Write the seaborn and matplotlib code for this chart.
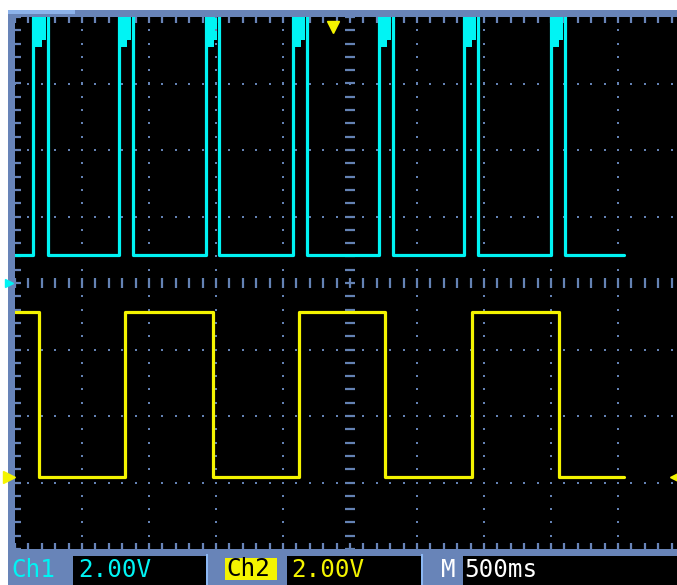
import numpy as np
import pandas as pd
import seaborn as sns
import matplotlib.pyplot as plt
from matplotlib.patches import Rectangle

# scope settings
volts_per_div = 2.0
ms_per_div = 500
ch1_offset_div = 0.0
ch2_offset_div = -2.91
trace_end_ms = 4545
trigger_ms = 2373

# Ch1 (cyan) pulse edges, ms
ch1_rise_ms = [134, 776, 1425, 2075, 2716, 3351, 4000]
ch1_fall_ms = [246, 881, 1522, 2179, 2821, 3455, 4104]
ch1_low_v = 0.84
ch1_high_v = 8.6          # above the screen, gets clipped
ch1_clip_v = [7.1, 7.3]   # depth of the clipped blob at the top

# Ch2 (yellow) toggle edges, ms
ch2_edges_ms = [179, 821, 1478, 2119, 2761, 3410, 4060]
ch2_high_v = 4.96
ch2_low_v = 0.0

frame_col = '#6884b8'
dot_col = '#6482b4'
cyan = '#00f4f4'
yellow = '#f4f400'


def square_wave(edges, start, other, end):
    t, v = [0], [start]
    level, nxt = start, other
    for e in edges:
        t += [e, e]
        v += [level, nxt]
        level, nxt = nxt, level
    t.append(end)
    v.append(level)
    return pd.DataFrame({'t': t, 'v': v})


ch1_edges = sorted(ch1_rise_ms + ch1_fall_ms)
ch1 = square_wave(ch1_edges, ch1_low_v, ch1_high_v, trace_end_ms)
ch1['div'] = ch1['v'] / volts_per_div + ch1_offset_div
ch2 = square_wave(ch2_edges_ms, ch2_high_v, ch2_low_v, trace_end_ms)
ch2['div'] = ch2['v'] / volts_per_div + ch2_offset_div

sns.set_style('dark')
fig = plt.figure(figsize=(6.77, 5.85), dpi=100)

# frame / status bar, pixel coordinates
bg = fig.add_axes([0, 0, 1, 1], zorder=0)
bg.set_xlim(0, 677)
bg.set_ylim(585, 0)
bg.axis('off')
bg.add_patch(Rectangle((8, 10), 669, 575, color=frame_col, lw=0))
bg.add_patch(Rectangle((8, 10), 67, 4, color='#8cb2ea', lw=0))
for x0, x1 in [(73, 206), (287, 421), (463, 677)]:
    bg.add_patch(Rectangle((x0, 556), x1 - x0, 29, color='black', lw=0))
for xs in [206, 421]:
    bg.add_patch(Rectangle((xs, 554), 2, 31, color='#8cb8f4', lw=0))
bg.add_patch(Rectangle((225, 558), 52, 22, color=yellow, lw=0))

txt = dict(family='DejaVu Sans Mono', fontsize=17.5, va='center', ha='left')
bg.text(11, 570, 'Ch1', color=cyan, **txt)
bg.text(78, 570, '2.00V', color=cyan, **txt)
bg.text(226, 569, 'Ch2', color='black', **txt)
bg.text(291, 570, '2.00V', color=yellow, **txt)
bg.text(441, 570, 'M', color='white', **txt)
bg.text(464, 570, '500ms', color='white', **txt)

# scope screen
ax = fig.add_axes([15 / 677, 36 / 585, 662 / 677, 532 / 585], zorder=1)
ax.set_facecolor('black')
x_max = 662 / 67 * ms_per_div
ax.set_xlim(0, x_max)
ax.set_ylim(-4, 4)
for s in ax.spines.values():
    s.set_visible(False)

minor_x = np.arange(0, x_max, ms_per_div / 5)
minor_y = np.arange(-4, 4.01, 0.2)
ax.set_xticks(minor_x)
ax.set_yticks(minor_y)
ax.tick_params(direction='in', length=4.2, width=1.6, color=frame_col,
               top=True, bottom=True, left=True, right=False,
               labelbottom=False, labelleft=False)
ax.grid(False)

# dotted graticule
for gx in np.arange(ms_per_div, x_max, ms_per_div):
    if gx == 5 * ms_per_div:
        continue
    ax.plot(np.full(len(minor_y), gx), minor_y, ls='none', marker='s', ms=1.6, mew=0, color=dot_col)
for gy in [-3, -2, -1, 1, 2, 3]:
    ax.plot(minor_x, np.full(len(minor_x), gy), ls='none', marker='s', ms=1.6, mew=0, color=dot_col)
ax.plot(minor_x, np.zeros(len(minor_x)), ls='none', marker='|', ms=6.5, mew=1.6, color=dot_col)
ax.plot(np.full(len(minor_y), 5 * ms_per_div), minor_y, ls='none', marker='_', ms=6.5, mew=1.6, color=dot_col)

# traces
sns.lineplot(data=ch2, x='t', y='div', sort=False, estimator=None, color=yellow, lw=2.3, ax=ax)
sns.lineplot(data=ch1, x='t', y='div', sort=False, estimator=None, color=cyan, lw=2.3, ax=ax)
for r, f in zip(ch1_rise_ms, ch1_fall_ms):
    w = f - r
    ax.fill_between([r, r + 0.6 * w], ch1_clip_v[0] / volts_per_div, 4.1, color=cyan, lw=0)
    ax.fill_between([r + 0.6 * w, r + 0.85 * w], ch1_clip_v[1] / volts_per_div, 4.1, color=cyan, lw=0)

# channel ground / trigger markers
yt = ax.get_yaxis_transform()
ax.plot([-0.009], [ch1_offset_div], marker='>', ms=6, color=cyan, transform=yt, clip_on=False)
ax.plot([-0.009], [ch2_offset_div], marker='>', ms=8, color=yellow, transform=yt, clip_on=False)
ax.plot([0.998], [ch2_offset_div], marker='<', ms=8, color=yellow, transform=yt, clip_on=False)
ax.plot([trigger_ms], [3.85], marker='v', ms=9, color=yellow, clip_on=False)

ax.set_xlabel('')
ax.set_ylabel('')
fig.savefig('out.png', dpi=100, facecolor='white')
